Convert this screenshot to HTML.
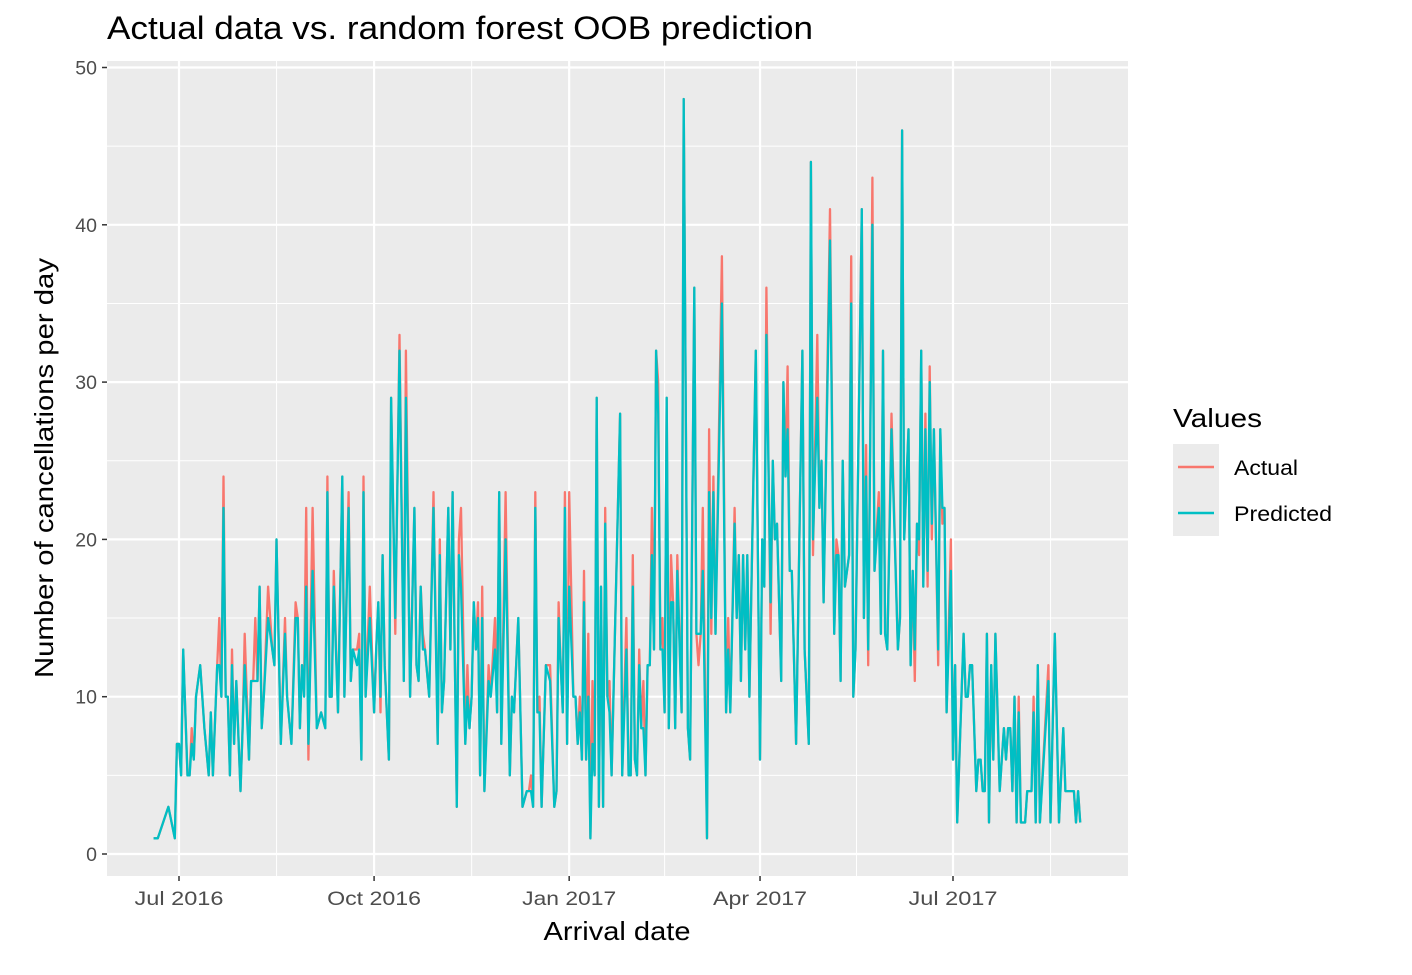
<!DOCTYPE html>
<html><head><meta charset="utf-8"><style>
body{margin:0;background:#fff}
svg text{font-family:"Liberation Sans",Arial,sans-serif}
</style></head><body>
<svg id="chart" width="1412" height="970" viewBox="0 0 1412 970" xmlns="http://www.w3.org/2000/svg">
<rect x="107" y="61" width="1021" height="815" fill="#ebebeb"/>
<g id="grid"></g>
<g id="series"></g>
<g id="axes"></g>
<text x="107" y="39" font-size="32" textLength="706" lengthAdjust="spacingAndGlyphs" fill="#000">Actual data vs. random forest OOB prediction</text>
<text x="617" y="940" font-size="26" textLength="147" lengthAdjust="spacingAndGlyphs" text-anchor="middle" fill="#000">Arrival date</text>
<text transform="translate(53,468) rotate(-90)" font-size="26" textLength="420" lengthAdjust="spacingAndGlyphs" text-anchor="middle" fill="#000">Number of cancellations per day</text>
<g>
<text x="1173" y="427" font-size="26" textLength="89" lengthAdjust="spacingAndGlyphs" fill="#000">Values</text>
<rect x="1173" y="444" width="46" height="92" fill="#ebebeb"/>
<line x1="1178" y1="467" x2="1214" y2="467" stroke="#F8766D" stroke-width="2.5"/>
<line x1="1178" y1="513" x2="1214" y2="513" stroke="#00BFC4" stroke-width="2.5"/>
<text x="1234" y="475" font-size="21" textLength="64" lengthAdjust="spacingAndGlyphs" fill="#000">Actual</text>
<text x="1234" y="521" font-size="21" textLength="98" lengthAdjust="spacingAndGlyphs" fill="#000">Predicted</text>
</g>
</svg>
<script>
// day offsets from 2016-07-01
const days=[-12,-10,-5,-2,-1,0,1,2,4,5,6,7,8,10,12,14,15,16,18,19,20,21,22,23,24,25,26,27,29,30,31,33,34,35,36,37,38,39,40,42,44,45,46,48,50,51,53,55,56,57,58,59,60,61,63,65,67,69,70,71,72,73,75,77,78,80,81,82,84,85,86,87,88,90,92,93,94,95,96,97,99,100,102,104,106,107,109,111,112,113,114,115,116,118,120,122,123,124,125,127,128,129,131,132,133,135,136,137,138,139,140,141,142,143,144,146,147,149,150,151,152,154,156,157,158,160,161,162,164,165,166,167,168,169,170,171,173,175,177,178,179,180,181,182,183,184,186,187,188,189,190,191,192,193,194,195,196,197,198,199,200,201,202,203,204,208,209,211,212,213,214,215,216,217,218,219,220,221,222,223,224,225,226,227,228,229,230,231,232,233,234,235,237,238,240,241,243,244,245,246,247,249,250,251,252,253,256,258,259,260,262,263,264,265,266,267,268,269,272,274,275,276,277,279,280,281,282,284,285,286,287,288,289,291,294,295,297,298,299,301,302,303,304,307,309,310,311,312,313,314,316,317,318,319,322,323,324,325,327,328,330,331,332,333,334,336,339,340,341,342,344,345,346,347,348,349,350,351,352,353,354,355,356,358,359,360,361,362,364,365,366,367,370,371,372,373,374,376,377,378,379,380,381,382,383,384,385,387,389,390,391,392,393,394,395,396,397,399,400,402,403,404,405,406,410,411,413,415,417,418,421,422,423,424,425];
const actual=[1,1,3,1,7,7,5,13,5,5,8,6,10,12,8,5,9,5,12,15,10,24,10,10,5,13,7,11,4,8,14,6,11,11,15,11,17,8,10,17,13,12,20,7,15,10,7,16,15,8,12,11,22,6,22,8,9,8,24,10,10,18,9,24,10,23,11,13,13,14,6,24,10,17,9,13,16,9,19,12,6,29,14,33,11,32,10,22,12,11,17,14,13,10,23,7,20,9,11,22,13,23,3,20,22,7,12,8,10,16,13,16,5,17,4,12,10,15,9,23,7,23,5,10,9,15,9,3,4,4,5,3,23,9,10,3,12,12,3,4,16,12,9,23,7,23,10,10,7,10,6,18,6,14,1,11,5,29,3,17,3,22,10,11,5,28,5,15,5,5,19,6,5,13,8,11,5,12,12,22,13,32,30,13,15,9,29,8,19,16,8,19,9,48,8,6,36,14,12,14,22,1,27,14,24,14,38,9,15,9,22,15,19,11,19,13,19,10,32,6,20,17,36,14,25,20,21,11,30,24,31,18,18,7,32,13,7,44,19,33,22,25,16,41,14,20,19,11,25,17,19,38,10,13,41,15,26,12,43,18,23,14,32,14,13,28,13,15,46,20,27,12,18,11,21,19,32,17,28,17,31,20,27,12,27,21,22,9,20,6,12,2,14,10,10,12,12,4,6,6,4,4,14,2,12,6,14,4,8,6,8,8,4,10,2,10,2,2,4,4,10,2,12,2,12,2,14,2,8,4,4,4,2,4,2];
const predicted=[1,1,3,1,7,7,5,13,5,5,7,6,10,12,8,5,9,5,12,12,10,22,10,10,5,12,7,11,4,8,12,6,11,11,11,11,17,8,10,15,13,12,20,7,14,10,7,15,15,8,12,10,17,7,18,8,9,8,23,10,10,17,9,24,10,22,11,13,12,13,6,23,10,15,9,13,16,10,19,12,6,29,15,32,11,29,10,22,12,11,17,13,13,10,22,7,19,9,11,22,13,23,3,19,17,7,10,8,10,16,13,15,5,15,4,11,10,13,9,23,7,20,5,10,9,15,9,3,4,4,4,3,22,9,9,3,12,11,3,4,15,12,9,22,7,17,10,10,7,9,6,16,6,10,1,7,5,29,3,17,3,21,10,9,5,28,5,13,5,5,17,6,5,12,8,8,5,12,12,19,13,32,28,13,13,9,29,8,16,16,8,18,9,48,8,6,36,14,14,14,18,1,23,15,23,14,35,9,13,9,21,15,19,11,19,13,19,10,32,6,20,17,33,16,25,20,21,11,30,24,27,18,18,7,32,13,7,44,20,29,22,25,16,39,14,19,19,11,25,17,19,35,10,13,41,15,24,13,40,18,22,14,32,14,13,27,13,15,46,20,27,12,18,13,21,20,32,17,27,18,30,21,27,13,27,22,22,9,18,6,12,2,14,10,10,12,12,4,6,6,4,4,14,2,12,6,14,4,8,6,8,8,4,10,2,9,2,2,4,4,9,2,12,2,11,2,14,2,8,4,4,4,2,4,2];
const xTickDays=[0,92,184,274,365];
const xTickLabels=["Jul 2016","Oct 2016","Jan 2017","Apr 2017","Jul 2017"];
const yTicks=[0,10,20,30,40,50];

const NS="http://www.w3.org/2000/svg";
const X0=107,X1=1128,Y0=61,Y1=876;
function xs(d){return 179+d*(953-179)/365;}
function ys(v){return 854-v*(854-67.5)/50;}
function mk(tag,attrs,parent){const e=document.createElementNS(NS,tag);for(const k in attrs)e.setAttribute(k,attrs[k]);parent.appendChild(e);return e;}
const grid=document.getElementById('grid'),axes=document.getElementById('axes'),series=document.getElementById('series');
for(let i=0;i<yTicks.length-1;i++){
  const y=ys((yTicks[i]+yTicks[i+1])/2);
  const l=mk('line',{x1:X0,x2:X1,y1:y,y2:y,stroke:'#fff','stroke-width':1},grid);
  
  
}
const ext=[...xTickDays,xTickDays[xTickDays.length-1]+92];
for(let i=0;i<ext.length-1;i++){
  const x=xs((ext[i]+ext[i+1])/2);
  if(x>X1)continue;
  const l=mk('line',{x1:x,x2:x,y1:Y0,y2:Y1,stroke:'#fff','stroke-width':1},grid);
  
  
}
yTicks.forEach(v=>{
  const y=ys(v);
  const l=mk('line',{x1:X0,x2:X1,y1:y,y2:y,stroke:'#fff','stroke-width':2.2},grid);
  
  
  const t=mk('line',{x1:X0-5,x2:X0,y1:y,y2:y,stroke:'#333','stroke-width':1.5},axes);
  
  
  const tx=mk('text',{x:X0-10,y:y+7,'font-size':19.5,'text-anchor':'end',fill:'#4d4d4d'},axes);
  tx.textContent=v;
  
  
});
xTickDays.forEach((d,i)=>{
  const x=xs(d);
  const l=mk('line',{x1:x,x2:x,y1:Y0,y2:Y1,stroke:'#fff','stroke-width':2.2},grid);
  
  
  const t=mk('line',{x1:x,x2:x,y1:Y1,y2:Y1+5,stroke:'#333','stroke-width':1.5},axes);
  
  
  const tx=mk('text',{x:x,y:905,'font-size':19.5,'text-anchor':'middle',fill:'#4d4d4d',textLength:xTickLabels[i].startsWith('Jul')?89:94,lengthAdjust:'spacingAndGlyphs'},axes);
  tx.textContent=xTickLabels[i];
  
  
});
function line(vals,color,name){
  const pts=days.map((d,i)=>xs(d).toFixed(1)+','+ys(vals[i]).toFixed(1)).join(' ');
  const p=mk('polyline',{points:pts,fill:'none',stroke:color,'stroke-width':2.3,'stroke-linejoin':'round'},series);
  
  
}
line(actual,'#F8766D','actual-line');
line(predicted,'#00BFC4','predicted-line');
</script>
</body></html>
